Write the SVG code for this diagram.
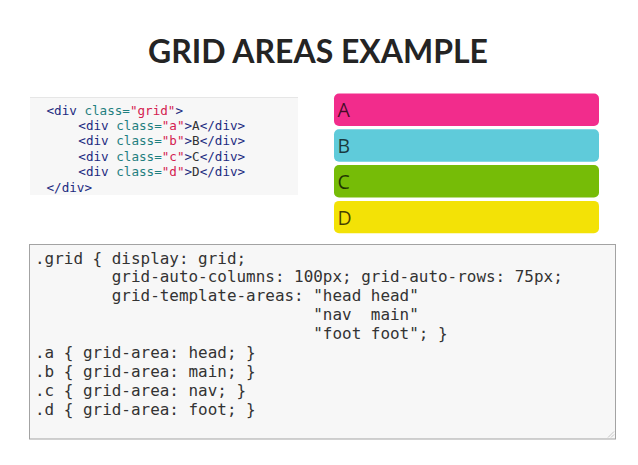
<svg xmlns="http://www.w3.org/2000/svg" width="638" height="465" viewBox="0 0 638 465">
<style>
.title{font-family:Lato,"Open Sans","DejaVu Sans",sans-serif;font-weight:700;font-size:32px;fill:#242424}
.html{font-family:"DejaVu Sans Mono","Liberation Mono",monospace;font-size:12.6px;fill:#333;white-space:pre}
.tag{fill:#1c2a80}
.att{fill:#1f7f7f}
.str{fill:#d4204f}
.css{font-family:"DejaVu Sans Mono","Liberation Mono",monospace;font-size:15.95px;fill:#333;white-space:pre}
.bar{stroke:none}
.lbl{font-family:"Open Sans","Noto Sans",sans-serif;font-size:19.5px;fill:#000;fill-opacity:0.72}
</style>
<rect width="638" height="465" fill="#ffffff"/>
<g id="title">
<text class="title" x="148" y="63" textLength="340" lengthAdjust="spacingAndGlyphs">GRID AREAS EXAMPLE</text>
</g>
<g id="html-code">
<rect x="30" y="97" width="268" height="98" fill="#f7f7f7"/>
<line x1="30" y1="97.5" x2="298" y2="97.5" stroke="#e6e6e6" stroke-width="1"/>
<text class="html" x="46.5" y="114.5" xml:space="preserve"><tspan class="tag">&lt;div</tspan> <tspan class="att">class=</tspan><tspan class="str">"grid"</tspan><tspan class="tag">&gt;</tspan></text>
<text class="html" x="78.3" y="129.9" xml:space="preserve"><tspan class="tag">&lt;div</tspan> <tspan class="att">class=</tspan><tspan class="str">"a"</tspan><tspan class="tag">&gt;</tspan>A<tspan class="tag">&lt;/div&gt;</tspan></text>
<text class="html" x="78.3" y="145.3" xml:space="preserve"><tspan class="tag">&lt;div</tspan> <tspan class="att">class=</tspan><tspan class="str">"b"</tspan><tspan class="tag">&gt;</tspan>B<tspan class="tag">&lt;/div&gt;</tspan></text>
<text class="html" x="78.3" y="160.7" xml:space="preserve"><tspan class="tag">&lt;div</tspan> <tspan class="att">class=</tspan><tspan class="str">"c"</tspan><tspan class="tag">&gt;</tspan>C<tspan class="tag">&lt;/div&gt;</tspan></text>
<text class="html" x="78.3" y="176.1" xml:space="preserve"><tspan class="tag">&lt;div</tspan> <tspan class="att">class=</tspan><tspan class="str">"d"</tspan><tspan class="tag">&gt;</tspan>D<tspan class="tag">&lt;/div&gt;</tspan></text>
<text class="html" x="46.5" y="191.5" xml:space="preserve"><tspan class="tag">&lt;/div&gt;</tspan></text>
</g>
<g id="item-a">
<rect class="bar" x="334" y="93.5" width="265" height="32.4" rx="5" fill="#f22c8c"/>
<text class="lbl" x="337.5" y="117.3">A</text>
</g>
<g id="item-b">
<rect class="bar" x="334" y="129.3" width="265" height="32.4" rx="5" fill="#5fcbda"/>
<text class="lbl" x="337.5" y="153.1">B</text>
</g>
<g id="item-c">
<rect class="bar" x="334" y="165.1" width="265" height="32.4" rx="5" fill="#76bc07"/>
<text class="lbl" x="337.5" y="188.9">C</text>
</g>
<g id="item-d">
<rect class="bar" x="334" y="200.9" width="265" height="32.4" rx="5" fill="#f3e206"/>
<text class="lbl" x="337.5" y="224.7">D</text>
</g>
<g id="css-code">
<rect x="29.5" y="244.5" width="586" height="194.5" fill="#f7f7f7" stroke="#a3a3a3" stroke-width="1"/>
<text class="css" x="35" y="263.5" xml:space="preserve">.grid { display: grid;</text>
<text class="css" x="35" y="282.4" xml:space="preserve">        grid-auto-columns: 100px; grid-auto-rows: 75px;</text>
<text class="css" x="35" y="301.3" xml:space="preserve">        grid-template-areas: "head head"</text>
<text class="css" x="35" y="320.2" xml:space="preserve">                             "nav  main"</text>
<text class="css" x="35" y="339.1" xml:space="preserve">                             "foot foot"; }</text>
<text class="css" x="35" y="358.0" xml:space="preserve">.a { grid-area: head; }</text>
<text class="css" x="35" y="376.9" xml:space="preserve">.b { grid-area: main; }</text>
<text class="css" x="35" y="395.8" xml:space="preserve">.c { grid-area: nav; }</text>
<text class="css" x="35" y="414.7" xml:space="preserve">.d { grid-area: foot; }</text>
<g stroke="#b8b8b8" stroke-width="0.8">
<line x1="608" y1="437.5" x2="614" y2="431.5"/>
<line x1="611" y1="437.5" x2="614" y2="434.5"/>
</g>
</g>
</svg>
